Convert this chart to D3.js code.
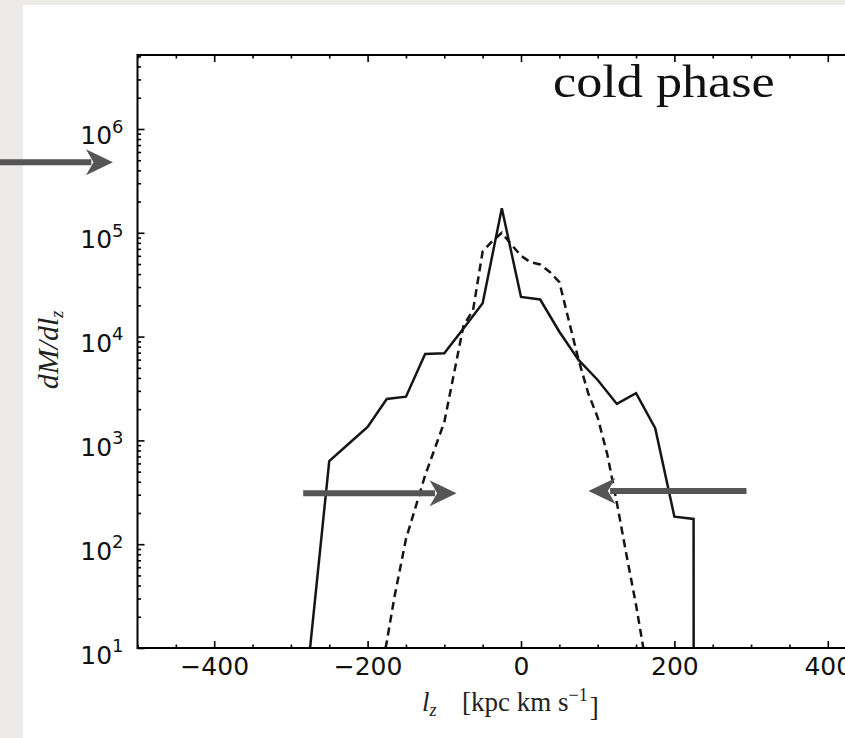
<!DOCTYPE html>
<html>
<head>
<meta charset="utf-8">
<script src="https://cdn.jsdelivr.net/npm/d3@7/dist/d3.min.js"></script>
<style>
  html, body { margin: 0; padding: 0; background: #ecebe8; }
  svg { display: block; }
</style>
</head>
<body>
<svg id="chart" width="845" height="738"></svg>
<script>
// ---- data ----
const solidLz   = [-300, -275, -250, -225, -200, -175, -150, -125, -100, -75, -50, -25, 0, 25, 50, 75, 100, 125, 150, 175, 200, 225, 250];
const solidMass = [0, 10, 633, 922, 1346, 2506, 2637, 6794, 6900, 11940, 20940, 172200, 24100, 22750, 11140, 5960, 3820, 2244, 2845, 1309, 184, 175, 0];

const dashedLz   = [-180, -175, -165, -150, -125, -100, -75, -62.5, -50, -37.5, -25, -12.5, 0, 12.5, 25, 37.5, 50, 62.5, 75, 87.5, 100, 112.5, 125, 137.5, 150, 160];
const dashedMass = [7.5, 11.5, 31, 112, 460, 1500, 12700, 18000, 66000, 83000, 100000, 77000, 60000, 52000, 49500, 42000, 33500, 14100, 6000, 2870, 1660, 733, 250, 79, 26, 9.5];

const xMajorTicks = [-400, -200, 0, 200, 400];
const xMinorTicks = d3.range(-500, 501, 50);
const yMajorTicks = [1e1, 1e2, 1e3, 1e4, 1e5, 1e6];
const yTickExponents = ["1", "2", "3", "4", "5", "6"];

const panelTitle = "cold phase";

// annotation arrows in data coordinates: [tailLz, tipLz, mass]
const arrowTails = [-680, -284, 294];
const arrowTips  = [-532, -84, 88];
const arrowLevel = [478000, 309, 326];

// ---- layout ----
const W = 845, H = 738;
const svg = d3.select("#chart");

svg.append("rect").attr("width", W).attr("height", H).attr("fill", "#ecebe8");
svg.append("rect").attr("x", 23).attr("y", 5).attr("width", W - 23).attr("height", H - 5).attr("fill", "#ffffff");

const x = d3.scaleLinear().domain([-500, 500]).range([137.5, 904.5]);
const y = d3.scaleLog().domain([10, 5.16e6]).range([648, 55]);

const plotL = 137.5, plotR = 904.5, plotT = 55, plotB = 648;

svg.append("defs").append("clipPath").attr("id", "plotclip")
  .append("rect").attr("x", plotL).attr("y", plotT).attr("width", plotR - plotL).attr("height", plotB - plotT);

// ---- curves ----
const clipVal = v => (v > 0 ? v : 1e-300);
const line = d3.line().x(d => x(d[0])).y(d => y(clipVal(d[1])));

const curves = svg.append("g").attr("clip-path", "url(#plotclip)");
curves.append("path")
  .datum(solidLz.map((v, i) => [v, solidMass[i]]))
  .attr("d", line)
  .attr("fill", "none").attr("stroke", "#151515").attr("stroke-width", 2.5)
  .attr("stroke-linejoin", "miter");
curves.append("path")
  .datum(dashedLz.map((v, i) => [v, dashedMass[i]]))
  .attr("d", line)
  .attr("fill", "none").attr("stroke", "#151515").attr("stroke-width", 2.5)
  .attr("stroke-dasharray", "8,5");

// ---- axes ----
function styleAxis(g) {
  g.select(".domain").remove();
  g.selectAll(".tick line").attr("stroke", "#000").attr("stroke-width", 1.6);
}
const fontSans = "'DejaVu Sans', sans-serif";

const gB = svg.append("g").attr("transform", `translate(0,${plotB})`);
gB.call(d3.axisBottom(x).tickValues(xMinorTicks.filter(t => !xMajorTicks.includes(t))).tickSize(-3.5).tickFormat("")).call(styleAxis);
const gBM = svg.append("g").attr("transform", `translate(0,${plotB})`);
gBM.call(d3.axisBottom(x).tickValues(xMajorTicks).tickSize(-7).tickPadding(9)
  .tickFormat(d => (d < 0 ? "\u2212" + Math.abs(d) : String(d)))).call(styleAxis);
gBM.selectAll(".tick text").attr("font-family", fontSans).attr("font-size", 25).attr("fill", "#111");

const gT = svg.append("g").attr("transform", `translate(0,${plotT})`);
gT.call(d3.axisTop(x).tickValues(xMinorTicks.filter(t => !xMajorTicks.includes(t))).tickSize(-3.5).tickFormat("")).call(styleAxis);
const gTM = svg.append("g").attr("transform", `translate(0,${plotT})`);
gTM.call(d3.axisTop(x).tickValues(xMajorTicks).tickSize(-7).tickFormat("")).call(styleAxis);

const yMinor = [];
for (let e = 1; e <= 6; e++) for (let k = 2; k <= 9; k++) { const v = k * Math.pow(10, e); if (v <= y.domain()[1]) yMinor.push(v); }
const gL = svg.append("g").attr("transform", `translate(${plotL},0)`);
gL.call(d3.axisLeft(y).tickValues(yMinor).tickSize(-3.5).tickFormat("")).call(styleAxis);
const gLM = svg.append("g").attr("transform", `translate(${plotL},0)`);
gLM.call(d3.axisLeft(y).tickValues(yMajorTicks).tickSize(-7).tickFormat("")).call(styleAxis);
gLM.selectAll(".tick").each(function(d, i) {
  const t = d3.select(this).append("text")
    .attr("x", -14).attr("y", 0).attr("dy", "0.6em")
    .attr("text-anchor", "end")
    .attr("font-family", fontSans).attr("font-size", 25).attr("fill", "#111");
  t.append("tspan").text("10");
  t.append("tspan").attr("dy", "-0.65em").attr("font-size", 18).text(yTickExponents[i]);
});

svg.append("line").attr("x1", plotL).attr("x2", plotR).attr("y1", plotB).attr("y2", plotB).attr("stroke", "#000").attr("stroke-width", 2);
svg.append("line").attr("x1", plotL).attr("x2", plotR).attr("y1", plotT).attr("y2", plotT).attr("stroke", "#000").attr("stroke-width", 2);
svg.append("line").attr("x1", plotL).attr("x2", plotL).attr("y1", plotT - 1).attr("y2", plotB + 1).attr("stroke", "#000").attr("stroke-width", 2);

// ---- axis titles ----
const fontSerif = "'Liberation Serif', 'DejaVu Serif', serif";
const xtA = svg.append("text").attr("x", 422).attr("y", 711)
  .attr("font-family", fontSerif).attr("font-size", 27).attr("fill", "#222");
xtA.append("tspan").attr("font-style", "italic").text("l");
xtA.append("tspan").attr("font-style", "italic").attr("font-size", 18).attr("dy", "0.3em").text("z");
const xtB = svg.append("text").attr("x", 462).attr("y", 711)
  .attr("font-family", fontSerif).attr("font-size", 27).attr("fill", "#222");
xtB.append("tspan").text("[kpc km s");
xtB.append("tspan").attr("font-size", 18).attr("dy", "-0.55em").text("\u22121");
xtB.append("tspan").attr("dy", "0.55em").attr("dx", 2).text("]");

const yt = svg.append("text").attr("transform", "translate(58,350) rotate(-90)").attr("text-anchor", "middle")
  .attr("font-family", fontSerif).attr("font-size", 30).attr("font-style", "italic").attr("fill", "#222");
yt.append("tspan").text("dM/dl");
yt.append("tspan").attr("font-size", 18).attr("dy", "0.3em").text("z");

// ---- panel title ----
svg.append("text")
  .attr("transform", "translate(553,97) scale(1.135,1)")
  .attr("font-family", "'Liberation Serif', serif").attr("font-size", 46).attr("fill", "#111")
  .text(panelTitle);

// ---- arrows ----
const arrowColor = "#555555";
arrowTails.forEach((t, i) => {
  const x0 = x(t), x1 = x(arrowTips[i]), yy = y(arrowLevel[i]);
  const dir = Math.sign(x1 - x0);
  const headL = 27, headW = 13;
  svg.append("line").attr("x1", x0).attr("x2", x1 - dir * headL * 0.8).attr("y1", yy).attr("y2", yy)
    .attr("stroke", arrowColor).attr("stroke-width", 6);
  svg.append("path")
    .attr("d", `M${x1},${yy} L${x1 - dir * headL},${yy - headW} L${x1 - dir * headL * 0.72},${yy} L${x1 - dir * headL},${yy + headW} Z`)
    .attr("fill", arrowColor);
});
</script>
</body>
</html>
